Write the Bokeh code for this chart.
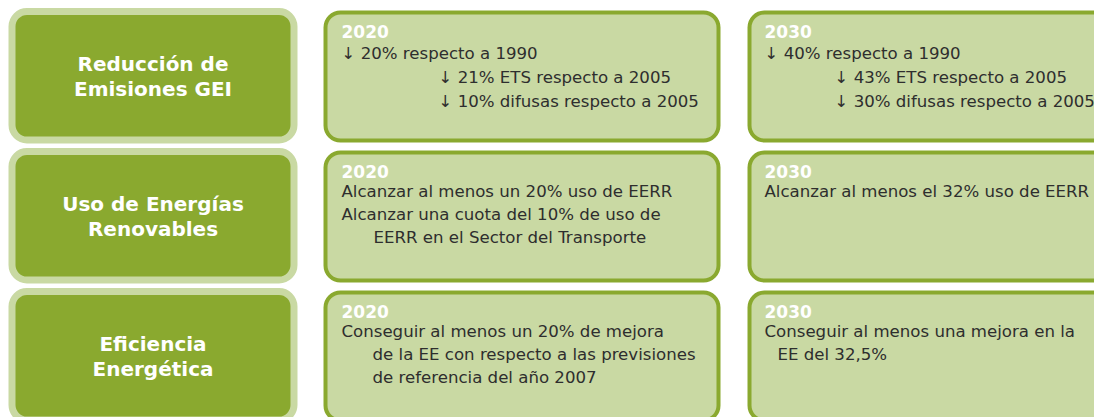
from bokeh.plotting import figure
from bokeh.models import Range1d
from bokeh.core.properties import value
from bokeh.embed import file_html
from bokeh.resources import INLINE

# ---------------- data ----------------
categories = [
    ["Reducción de", "Emisiones GEI"],
    ["Uso de Energías", "Renovables"],
    ["Eficiencia", "Energética"],
]
years = ["2020", "2030"]
goals_2020 = [
    ["↓ 20% respecto a 1990", "↓ 21% ETS respecto a 2005", "↓ 10% difusas respecto a 2005"],
    ["Alcanzar al menos un 20% uso de EERR", "Alcanzar una cuota del 10% de uso de",
     "EERR en el Sector del Transporte"],
    ["Conseguir al menos un 20% de mejora", "de la EE con respecto a las previsiones",
     "de referencia del año 2007"],
]
goals_2030 = [
    ["↓ 40% respecto a 1990", "↓ 43% ETS respecto a 2005", "↓ 30% difusas respecto a 2005"],
    ["Alcanzar al menos el 32% uso de EERR"],
    ["Conseguir al menos una mejora en la", "EE del 32,5%"],
]
goals = [goals_2020, goals_2030]

# ---------------- layout / style ----------------
DARK = "#8aa92f"
LIGHT = "#c9d9a3"
BODY = "#2e2e2e"
FONT = value("DejaVu Sans")
W, H = 1094, 417

row_tops = [12, 152, 292]
row_h = 128
col_left = [325, 749]
col_right = [718, 1130]
text_x = [341, 764]
indents = [
    [[0, 97, 97], [0, 0, 32], [0, 31, 31]],
    [[0, 70, 70], [0], [0, 13]],
]
SHIFT = -6
first_off = [47 + SHIFT, 45 + SHIFT, 45 + SHIFT]
line_gap = [24, 23, 23]
year_off = 25 + SHIFT

p = figure(width=W, height=H, output_backend="svg", toolbar_location=None,
           x_range=Range1d(0, W), y_range=Range1d(H, 0),
           min_border=0, outline_line_color=None, background_fill_color="white",
           border_fill_color="white")
p.axis.visible = False
p.grid.visible = False

# left category boxes
n = len(categories)
p.quad(left=[11.5] * n, right=[293.5] * n,
       top=[t - 1 for t in row_tops], bottom=[t + row_h - 0.5 for t in row_tops],
       fill_color=DARK, line_color=LIGHT, line_width=7, border_radius=15)

cx, cy, ct = [], [], []
for r, lines in enumerate(categories):
    center = row_tops[r] - 1 + (row_h + 0.5) / 2
    for i, s in enumerate(lines):
        cx.append(152.5)
        cy.append(center + 7 - 12.5 + 25 * i + SHIFT)
        ct.append(s)
p.text(x=cx, y=cy, text=ct, text_font=FONT, text_font_style="bold",
       text_font_size="20px", text_color="white", text_align="center",
       text_baseline="alphabetic")

# goal boxes
for c in range(2):
    p.quad(left=[col_left[c]] * n, right=[col_right[c]] * n,
           top=row_tops, bottom=[t + row_h for t in row_tops],
           fill_color=LIGHT, line_color=DARK, line_width=4, border_radius=15)
    p.text(x=[text_x[c]] * n, y=[t + year_off for t in row_tops], text=[years[c]] * n,
           text_font=FONT, text_font_style="bold", text_font_size="17px",
           text_color="white", text_baseline="alphabetic")
    gx, gy, gt = [], [], []
    for r in range(n):
        for i, s in enumerate(goals[c][r]):
            gx.append(text_x[c] + indents[c][r][i])
            gy.append(row_tops[r] + first_off[r] + line_gap[r] * i)
            gt.append(s)
    p.text(x=gx, y=gy, text=gt, text_font=FONT, text_font_size="16.6px",
           text_color=BODY, text_baseline="alphabetic")

open("out.html", "w").write(file_html(p, INLINE))
